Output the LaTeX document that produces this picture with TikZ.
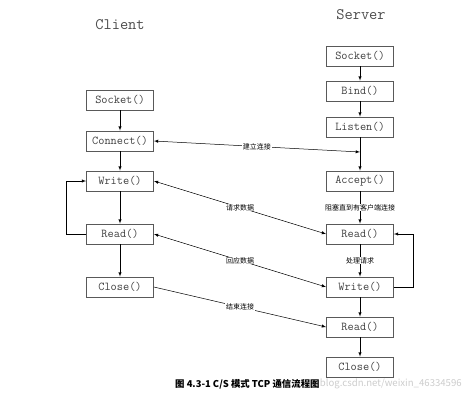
\documentclass[tikz,border=0pt]{standalone}
\usepackage{fontspec}
\newfontfamily\cjk{Noto Sans CJK SC}
\usetikzlibrary{positioning}
\tikzset{
  fn/.style={shape=rectangle,draw=black!65,line width=0.8pt,minimum width=67pt,minimum height=20pt,inner sep=0,text=black!75,font=\ttfamily\fontsize{12}{13}\selectfont},
  side/.style={text=black!70,font=\ttfamily\fontsize{16}{18}\selectfont},
  note/.style={fill=white,inner sep=0.6pt,font=\cjk\fontsize{7}{8}\selectfont},
  flow/.style={->,>=latex,draw=black,line width=0.5pt},
  talk/.style={<->,>=latex,draw=black,line width=0.5pt}
}
\begin{document}
\begin{tikzpicture}[x=1pt,y=-1pt]
      \useasboundingbox (0,0) rectangle (474,400);
      % client side
      \node[side] (client) at (120,25) {Client};
      \node[fn] (csocket) at (120,100) {Socket()};
      \node[fn] (cconnect) at (120,141) {Connect()};
      \node[fn] (cwrite) at (120,181) {Write()};
      \node[fn] (cread) at (120,234) {Read()};
      \node[fn] (cclose) at (120,287) {Close()};
      % server side
      \node[side] (server) at (361,15) {Server};
      \node[fn] (ssocket) at (360,56) {Socket()};
      \node[fn] (sbind) at (360,91) {Bind()};
      \node[fn] (slisten) at (360,127) {Listen()};
      \node[fn] (saccept) at (360,181) {Accept()};
      \node[fn] (sread) at (360,234) {Read()};
      \node[fn] (swrite) at (360,287) {Write()};
      \node[fn] (sreadend) at (360,327) {Read()};
      \node[fn] (sclose) at (360,367) {Close()};
      \coordinate (sjoin) at (360,152);
      \begin{scope}
        \draw[flow] (csocket) -- (cconnect);
        \draw[flow] (cconnect) -- (cwrite);
        \draw[flow] (cwrite) -- (cread);
        \draw[flow] (cread) -- (cclose);
        \draw[flow] (cread.west) -- ++(-20,0) |- (cwrite.west);
        \draw[flow] (ssocket) -- (sbind);
        \draw[flow] (sbind) -- (slisten);
        \draw[flow] (slisten) -- (saccept);
        \draw[flow] (saccept) -- node[note] {阻塞直到有客户端连接} (sread);
        \draw[flow] (sread) -- node[note] {处理请求} (swrite);
        \draw[flow] (swrite) -- (sreadend);
        \draw[flow] (sreadend) -- (sclose);
        \draw[flow] (swrite.east) -- ++(19,0) |- (sread.east);
      \end{scope}
      % messages
      \draw[talk] (cconnect.east) -- node[note] {建立连接} (sjoin);
      \draw[talk] (cwrite.east) -- node[note] {请求数据} (sread.west);
      \draw[talk] (cread.east) -- node[note] {回应数据} (swrite.west);
      \draw[flow] (cclose.east) -- node[note] {结束连接} (sreadend.west);
      % caption
      \node[anchor=west,inner sep=0,font=\cjk\bfseries\fontsize{9.4}{10}\selectfont] (caption) at (175,384) {图 4.3-1 C/S 模式 TCP 通信流程图};
      \node[anchor=west,inner sep=0,text=black!20,font=\cjk\fontsize{9.6}{10}\selectfont] (mark) at (caption.east) {blog.csdn.net/weixin\_46334596};
    \end{tikzpicture}
\end{document}
